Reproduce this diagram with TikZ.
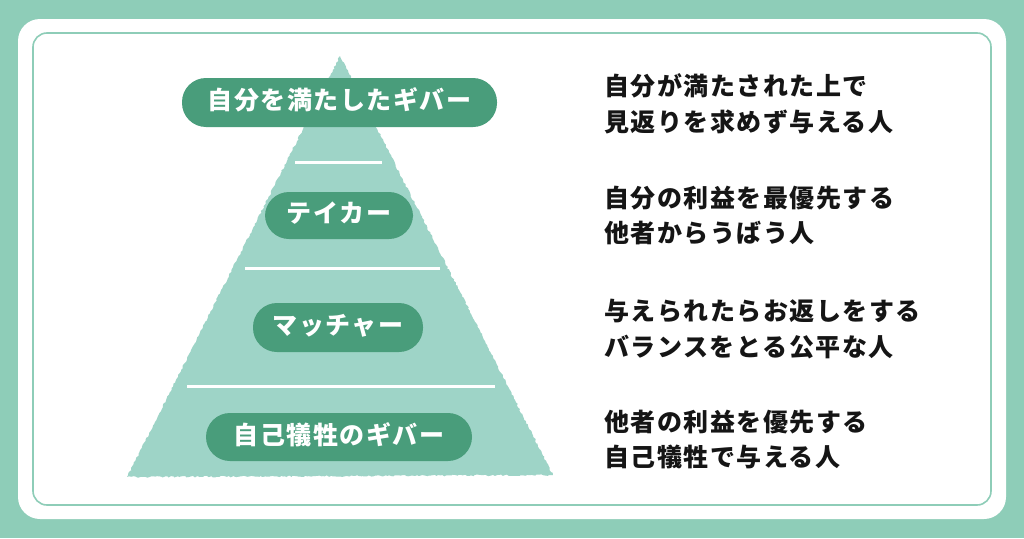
\documentclass[tikz,border=0pt]{standalone}
\usepackage{fontspec}
\newfontfamily\jpfont[LetterSpace=6]{Noto Sans CJK JP}
\usetikzlibrary{decorations.pathmorphing}
\definecolor{mintbg}{HTML}{8ECDB8}
\definecolor{trifill}{HTML}{9ED4C7}
\definecolor{pillc}{HTML}{499D7B}
\definecolor{txt}{HTML}{151515}
\tikzset{
  pill/.style={fill=pillc, rounded corners=24pt, inner sep=0pt, text=white,
    font=\jpfont\bfseries\fontsize{25}{25}\selectfont, text height=18pt, text depth=4pt},
  desc/.style={anchor=base west, inner sep=0pt, text=txt,
    font=\jpfont\bfseries\fontsize{25}{25}\selectfont},
  divider/.style={draw=white, line width=3pt}
}
\begin{document}
\begin{tikzpicture}[x=1pt,y=-1pt]
\useasboundingbox (0,0) rectangle (1024,538);
\fill[mintbg] (0,0) rectangle (1024,538);
\fill[white, rounded corners=22pt] (18,19) rectangle (1006,519);
\draw[mintbg, line width=1.6pt, rounded corners=14pt] (33,33) rectangle (991,505);
% pyramid
\fill[trifill, decorate, decoration={random steps, segment length=2pt, amplitude=0.8pt}]
  (340,56) -- (553,475) -- (127,477) -- cycle;
\coordinate (l1a) at (295,162); \coordinate (l1b) at (382,162);
\coordinate (l2a) at (245,268); \coordinate (l2b) at (440,268);
\coordinate (l3a) at (187,386); \coordinate (l3b) at (495,386);
\draw[divider] (l1a) -- (l1b);
\draw[divider] (l2a) -- (l2b);
\draw[divider] (l3a) -- (l3b);
% pills
\node[pill, minimum width=315pt, minimum height=49pt] (p1) at (339.5,102.5) {自分を満たしたギバー};
\node[pill, minimum width=148pt, minimum height=47pt] (p2) at (339,215.5) {テイカー};
\node[pill, minimum width=170pt, minimum height=49pt] (p3) at (338,327.5) {マッチャー};
\node[pill, minimum width=266pt, minimum height=48pt] (p4) at (339,437) {自己犠牲のギバー};
% descriptions
\node[desc] (d1a) at (604,95) {自分が満たされた上で};
\node[desc] (d1b) at (604,131) {見返りを求めず与える人};
\node[desc] (d2a) at (604,207) {自分の利益を最優先する};
\node[desc] (d2b) at (604,242) {他者からうばう人};
\node[desc] (d3a) at (604,320) {与えられたらお返しをする};
\node[desc] (d3b) at (604,356) {バランスをとる公平な人};
\node[desc] (d4a) at (604,431) {他者の利益を優先する};
\node[desc] (d4b) at (604,466) {自己犠牲で与える人};
\end{tikzpicture}
\end{document}
